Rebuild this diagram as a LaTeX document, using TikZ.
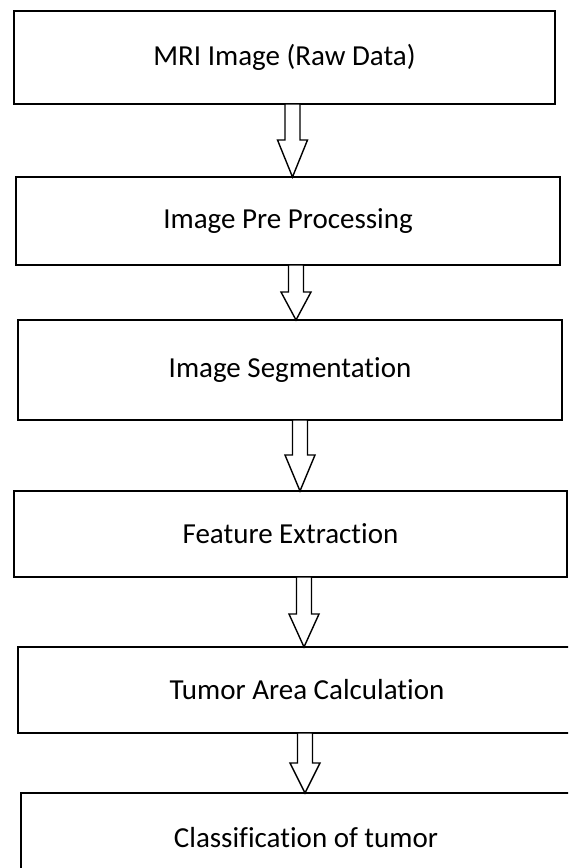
\documentclass[tikz,border=0pt]{standalone}
\usepackage{fontspec}
\setmainfont{Carlito}[Ligatures=NoCommon]
\usetikzlibrary{calc}

% hollow block arrow: from node, to node, centre x, head length
\newcommand{\flowarrow}[4]{%
  \draw[hollow] let \p1=(#1.south), \p2=(#2.north) in
    (#3-7.5,\y1) -- (#3-7.5,\y2+#4) -- (#3-15,\y2+#4) -- (#3,\y2)
    -- (#3+15,\y2+#4) -- (#3+7.5,\y2+#4) -- (#3+7.5,\y1) -- cycle;
}

\begin{document}
\begin{tikzpicture}[x=1pt,y=-1pt,
  stage/.style={draw,line width=1.6pt,anchor=north west,inner sep=0pt,outer sep=0pt,
    font=\fontsize{29}{34}\selectfont},
  hollow/.style={draw,fill=white,line width=1.4pt}]
  \clip (0,0) rectangle (568,868);

  % Stages
  \node[stage,minimum width=541,minimum height=93] (raw) at (14,11) {MRI Image (Raw Data)};
  \node[stage,minimum width=544,minimum height=88] (pre) at (16,177) {Image Pre Processing};
  \node[stage,minimum width=544,minimum height=100] (seg) at (18,320) {Image Segmentation};
  \node[stage,minimum width=553,minimum height=86] (feat) at (14,491) {Feature Extraction};
  \node[stage,minimum width=578,minimum height=86] (area) at (18,647) {Tumor Area Calculation};
  \node[stage,minimum width=570,minimum height=90] (cls) at (21,793) {Classification of tumor};

  % Arrows
  \flowarrow{raw}{pre}{292.5}{37}
  \flowarrow{pre}{seg}{296}{28}
  \flowarrow{seg}{feat}{300}{36}
  \flowarrow{feat}{area}{304}{33}
  \flowarrow{area}{cls}{305}{30}
\end{tikzpicture}
\end{document}
